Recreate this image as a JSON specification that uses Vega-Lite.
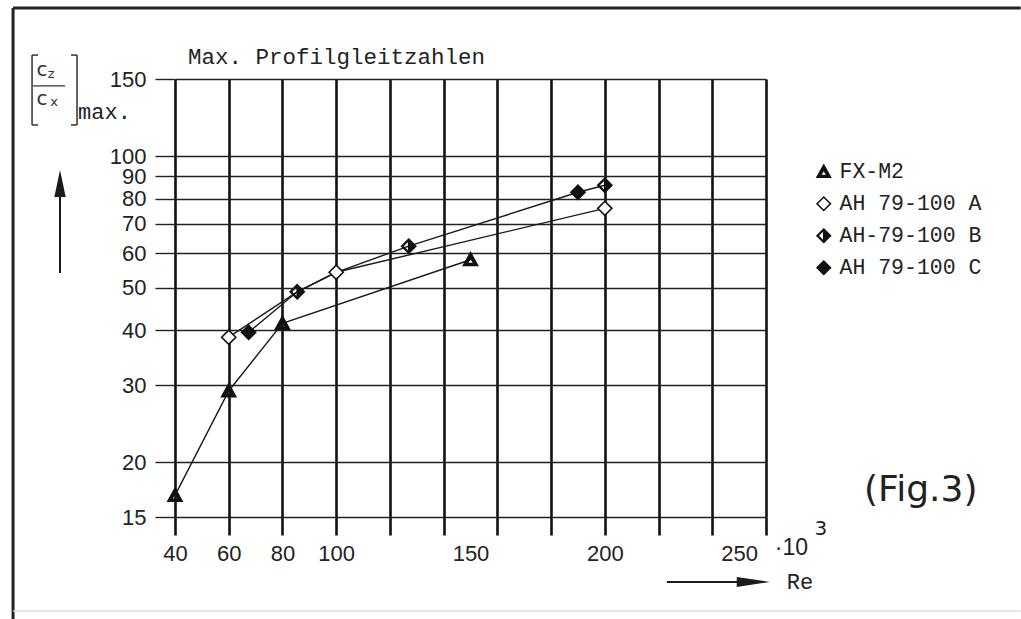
{
  "$schema": "https://vega.github.io/schema/vega-lite/v6.json",
  "width": 591,
  "height": 438,
  "autosize": "none",
  "padding": {"left": 175, "top": 79, "right": 255, "bottom": 102},
  "background": "white",
  "config": {"view": {"stroke": null}},
  "datasets": {
    "pts": [
      {"series": "FX-M2", "re": 40, "cz": 16.8},
      {"series": "FX-M2", "re": 60, "cz": 29.1},
      {"series": "FX-M2", "re": 80, "cz": 41.5},
      {"series": "FX-M2", "re": 150, "cz": 58},
      {"series": "AH 79-100 A", "re": 60, "cz": 38.6},
      {"series": "AH 79-100 A", "re": 100, "cz": 54.3},
      {"series": "AH 79-100 A", "re": 200, "cz": 76},
      {"series": "AH-79-100 B", "re": 85.5, "cz": 49},
      {"series": "AH-79-100 B", "re": 127, "cz": 62.3},
      {"series": "AH-79-100 B", "re": 200, "cz": 85.8},
      {"series": "AH 79-100 C", "re": 67.4, "cz": 39.6},
      {"series": "AH 79-100 C", "re": 190, "cz": 82.7}
    ],
    "paths": [
      {"path": "P1", "ord": 1, "re": 40, "cz": 16.8},
      {"path": "P1", "ord": 2, "re": 60, "cz": 29.1},
      {"path": "P1", "ord": 3, "re": 80, "cz": 41.5},
      {"path": "P1", "ord": 4, "re": 150, "cz": 58},
      {"path": "P2", "ord": 1, "re": 60, "cz": 38.6},
      {"path": "P2", "ord": 2, "re": 85.5, "cz": 49},
      {"path": "P2", "ord": 3, "re": 100, "cz": 54.3},
      {"path": "P2", "ord": 4, "re": 200, "cz": 76},
      {"path": "P3", "ord": 1, "re": 67.4, "cz": 39.6},
      {"path": "P3", "ord": 2, "re": 85.5, "cz": 49},
      {"path": "P3", "ord": 3, "re": 100, "cz": 54.3},
      {"path": "P3", "ord": 4, "re": 127, "cz": 62.3},
      {"path": "P3", "ord": 5, "re": 190, "cz": 82.7},
      {"path": "P3", "ord": 6, "re": 200, "cz": 85.8}
    ]
  },
  "data": {"values": [{}]},
  "resolve": {"axis": {"x": "independent", "y": "independent"}},
  "layer": [
    {
      "data": {"name": "paths"},
      "mark": {"type": "line", "color": "#1a1a1a", "strokeWidth": 1.4},
      "encoding": {
        "x": {"field": "re", "type": "quantitative",
          "scale": {"domain": [40, 260], "nice": false, "zero": false},
          "axis": {"orient": "bottom", "values": [40, 60, 80, 100, 120, 140, 160, 180, 200, 220, 240, 260],
            "grid": true, "gridColor": "#111", "gridWidth": 2.6, "ticks": true, "tickSize": 18, "tickWidth": 2.6,
            "tickColor": "#111", "labels": false, "domain": false, "title": null}},
        "y": {"field": "cz", "type": "quantitative",
          "scale": {"type": "log", "domain": [15, 150], "nice": false, "zero": false},
          "axis": {"values": [15, 20, 30, 40, 50, 60, 70, 80, 90, 100, 150], "format": "d",
            "grid": true, "gridColor": "#222", "gridWidth": 1.4, "tickColor": "#222", "tickWidth": 1.4, "tickSize": 20,
            "labelPadding": 9, "labelFont": "Liberation Sans", "labelFontSize": 22, "labelColor": "#222",
            "labelOverlap": false, "labelFlush": false, "labelBound": false,
            "domain": false, "title": null}},
        "detail": {"field": "path"},
        "order": {"field": "ord"}
      }
    },
    {
      "data": {"name": "pts"},
      "mark": {"type": "point", "filled": true, "strokeWidth": 1.6, "opacity": 1, "size": 200},
      "encoding": {
        "x": {"field": "re", "type": "quantitative",
          "axis": {"orient": "bottom", "values": [40, 60, 80, 100, 150, 200, 250], "ticks": false, "tickSize": 0,
            "grid": false, "domain": false, "labelPadding": 26, "labelFont": "Liberation Sans", "labelFontSize": 22,
            "labelColor": "#222", "labelFlush": false, "labelOverlap": false, "labelBound": false, "title": null}},
        "y": {"field": "cz", "type": "quantitative", "axis": null},
        "shape": {"field": "series", "type": "nominal",
          "scale": {"domain": ["FX-M2", "AH 79-100 A", "AH-79-100 B", "AH 79-100 C"],
            "range": ["M0,-1L1,0.8L-1,0.8Z M0,-0.3L-0.5,0.55L0.5,0.55Z", "diamond", "M0,-1L1,0L0,1L-1,0Z M0,-0.86L-0.86,0L0,0.86Z", "diamond"]},
          "legend": {"orient": "none", "legendX": 638, "legendY": 82, "title": null, "labelFont": "Liberation Mono",
            "labelFontSize": 21.5, "labelColor": "#222", "symbolSize": 180, "rowPadding": 9, "labelOffset": 5,
            "padding": 0, "symbolStrokeWidth": 1.6}},
        "fill": {"field": "series", "type": "nominal",
          "scale": {"domain": ["FX-M2", "AH 79-100 A", "AH-79-100 B", "AH 79-100 C"],
            "range": ["#111111", "#ffffff", "#111111", "#111111"]},
          "legend": {"orient": "none", "legendX": 638, "legendY": 82, "title": null, "labelFont": "Liberation Mono",
            "labelFontSize": 21.5, "labelColor": "#222", "symbolSize": 180, "rowPadding": 9, "labelOffset": 5,
            "padding": 0, "symbolStrokeWidth": 1.6}},
        "stroke": {"field": "series", "type": "nominal",
          "scale": {"domain": ["FX-M2", "AH 79-100 A", "AH-79-100 B", "AH 79-100 C"],
            "range": ["#111111", "#111111", "#111111", "#111111"]},
          "legend": {"orient": "none", "legendX": 638, "legendY": 82, "title": null, "labelFont": "Liberation Mono",
            "labelFontSize": 21.5, "labelColor": "#222", "symbolSize": 180, "rowPadding": 9, "labelOffset": 5,
            "padding": 0, "symbolStrokeWidth": 1.6}}
      }
    },
    {
      "mark": {"type": "text", "text": "Max. Profilgleitzahlen", "font": "Liberation Mono", "fontSize": 22.5, "fill": "#222", "align": "left", "baseline": "middle"},
      "encoding": {"x": {"datum": 44.84, "axis": null}, "y": {"datum": 168.3, "axis": null}}
    },
    {
      "mark": {"type": "text", "text": "max.", "font": "Liberation Mono", "fontSize": 22, "fill": "#222", "align": "left", "baseline": "middle"},
      "encoding": {"x": {"datum": 3.9, "axis": null}, "y": {"datum": 126.1, "axis": null}}
    },
    {
      "mark": {"type": "text", "text": "c", "font": "DejaVu Sans", "fontSize": 20, "fill": "#333", "align": "center", "baseline": "middle"},
      "encoding": {"x": {"datum": -9.49, "axis": null}, "y": {"datum": 157.3, "axis": null}}
    },
    {
      "mark": {"type": "text", "text": "z", "font": "DejaVu Sans", "fontSize": 13, "fill": "#333", "align": "center", "baseline": "middle"},
      "encoding": {"x": {"datum": -6.14, "axis": null}, "y": {"datum": 154.0, "axis": null}}
    },
    {
      "mark": {"type": "text", "text": "c", "font": "DejaVu Sans", "fontSize": 20, "fill": "#333", "align": "center", "baseline": "middle"},
      "encoding": {"x": {"datum": -9.49, "axis": null}, "y": {"datum": 135.0, "axis": null}}
    },
    {
      "mark": {"type": "text", "text": "x", "font": "DejaVu Sans", "fontSize": 13, "fill": "#333", "align": "center", "baseline": "middle"},
      "encoding": {"x": {"datum": -5.02, "axis": null}, "y": {"datum": 132.9, "axis": null}}
    },
    {
      "mark": {"type": "rule", "color": "#333", "strokeWidth": 1.3},
      "encoding": {"x": {"datum": -12.84, "axis": null}, "x2": {"datum": -0.93}, "y": {"datum": 144.6, "axis": null}}
    },
    {
      "mark": {"type": "rule", "color": "#333", "strokeWidth": 1.5},
      "encoding": {"x": {"datum": -13.21, "axis": null}, "y": {"datum": 170.1, "axis": null}, "y2": {"datum": 117.8}}
    },
    {
      "mark": {"type": "rule", "color": "#333", "strokeWidth": 1.5},
      "encoding": {"x": {"datum": -13.21, "axis": null}, "x2": {"datum": -10.98}, "y": {"datum": 170.1, "axis": null}}
    },
    {
      "mark": {"type": "rule", "color": "#333", "strokeWidth": 1.5},
      "encoding": {"x": {"datum": -13.21, "axis": null}, "x2": {"datum": -10.98}, "y": {"datum": 117.8, "axis": null}}
    },
    {
      "mark": {"type": "rule", "color": "#333", "strokeWidth": 1.5},
      "encoding": {"x": {"datum": 3.53, "axis": null}, "y": {"datum": 170.1, "axis": null}, "y2": {"datum": 117.8}}
    },
    {
      "mark": {"type": "rule", "color": "#333", "strokeWidth": 1.5},
      "encoding": {"x": {"datum": 1.3, "axis": null}, "x2": {"datum": 3.53}, "y": {"datum": 170.1, "axis": null}}
    },
    {
      "mark": {"type": "rule", "color": "#333", "strokeWidth": 1.5},
      "encoding": {"x": {"datum": 1.3, "axis": null}, "x2": {"datum": 3.53}, "y": {"datum": 117.8, "axis": null}}
    },
    {
      "mark": {"type": "rule", "color": "#1a1a1a", "strokeWidth": 2},
      "encoding": {"x": {"datum": -2.8, "axis": null}, "y": {"datum": 54.1, "axis": null}, "y2": {"datum": 81.5}}
    },
    {
      "mark": {"type": "point", "shape": "M0,-1L0.42,1L-0.42,1Z", "filled": true, "color": "#1a1a1a", "opacity": 1, "size": 729},
      "encoding": {"x": {"datum": -2.8, "axis": null}, "y": {"datum": 86.6, "axis": null}}
    },
    {
      "mark": {"type": "rule", "color": "#1a1a1a", "strokeWidth": 2},
      "encoding": {"x": {"datum": 223.1, "axis": null}, "x2": {"datum": 250.2}, "y": {"datum": 10.66, "axis": null}}
    },
    {
      "mark": {"type": "point", "shape": "M1,0L-1,-0.3L-1,0.3Z", "filled": true, "color": "#1a1a1a", "opacity": 1, "size": 1089},
      "encoding": {"x": {"datum": 255.26, "axis": null}, "y": {"datum": 10.66, "axis": null}}
    },
    {
      "mark": {"type": "text", "text": "Re", "font": "Liberation Mono", "fontSize": 22, "fill": "#222", "align": "left", "baseline": "middle"},
      "encoding": {"x": {"datum": 267.7, "axis": null}, "y": {"datum": 10.66, "axis": null}}
    },
    {
      "mark": {"type": "text", "text": "·10", "font": "Liberation Sans", "fontSize": 23, "fill": "#222", "align": "left", "baseline": "middle"},
      "encoding": {"x": {"datum": 263.3, "axis": null}, "y": {"datum": 12.74, "axis": null}}
    },
    {
      "mark": {"type": "text", "text": "3", "font": "DejaVu Sans", "fontSize": 20, "fill": "#222", "align": "left", "baseline": "middle"},
      "encoding": {"x": {"datum": 278.1, "axis": null}, "y": {"datum": 14.08, "axis": null}}
    },
    {
      "mark": {"type": "text", "text": "(Fig.3)", "font": "DejaVu Sans", "fontSize": 36, "fill": "#222", "align": "center", "baseline": "middle"},
      "encoding": {"x": {"datum": 317.6, "axis": null}, "y": {"datum": 17.29, "axis": null}}
    },
    {
      "mark": {"type": "rule", "color": "#222", "strokeWidth": 3},
      "encoding": {"x": {"datum": -20.28, "axis": null}, "y": {"datum": 217.8, "axis": null}, "y2": {"datum": 8.78}}
    },
    {
      "mark": {"type": "rule", "color": "#222", "strokeWidth": 3},
      "encoding": {"x": {"datum": -20.28, "axis": null}, "x2": {"datum": 354.8}, "y": {"datum": 217.8, "axis": null}}
    },
    {
      "mark": {"type": "rule", "color": "#dddddd", "strokeWidth": 1.5},
      "encoding": {"x": {"datum": -20.28, "axis": null}, "x2": {"datum": 354.8}, "y": {"datum": 9.15, "axis": null}}
    }
  ]
}
